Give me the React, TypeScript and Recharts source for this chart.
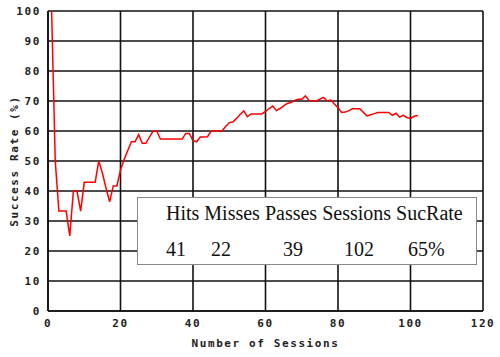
import { LineChart, Line, XAxis, YAxis, CartesianGrid } from 'recharts';

// success rate (%) after each session, sessions 1..102
const rates = [
  100, 50, 33.3, 33.3, 33.3, 25, 40, 40, 33.3, 42.9,
  42.9, 42.9, 42.9, 50, 46, 41, 36.4, 41.7, 41.7, 47,
  50.5, 53.5, 56.4, 56.4, 58.8, 55.9, 55.9, 58, 60, 60,
  57.3, 57.3, 57.3, 57.3, 57.3, 57.3, 57.3, 59.2, 59.2, 56.8,
  56.4, 58, 58, 58.1, 60, 60, 60, 60, 61.5, 62.8,
  63, 64.2, 65.5, 66.7, 64.8, 65.7, 65.7, 65.7, 65.7, 66.5,
  67.5, 68.3, 66.8, 67.5, 68.4, 69.2, 69.5, 70.2, 70.6, 70.6,
  71.7, 70.2, 70, 70, 70.6, 71.2, 70, 70.3, 69, 67.8,
  66.2, 66.3, 66.8, 67.4, 67.4, 67.4, 66.2, 65, 65.4, 65.8,
  66.2, 66.2, 66.2, 66.2, 65.2, 65.9, 64.6, 65.2, 64.5, 64.2,
  64.9, 65.2,
];

const xTicks = [0, 20, 40, 60, 80, 100, 120];
const yTicks = [0, 10, 20, 30, 40, 50, 60, 70, 80, 90, 100];

const statHeaders = ['Hits', 'Misses', 'Passes', 'Sessions', 'SucRate'];
const statValues = ['41', '22', '39', '102', '65%'];
const statValueLeft = [28, 73, 145, 206, 270];

const data = rates.map((r, i) => ({ session: i + 1, rate: r }));

const tickFont = { fontFamily: 'DejaVu Sans Mono', fontSize: 11, fontWeight: 'bold', fill: '#222', letterSpacing: 1.6 };

export default function App() {
  return (
    <div style={{ position: 'absolute', left: 0, top: 0, width: 500, height: 357, background: '#fff' }}>
      <LineChart width={500} height={357} data={data} margin={{ top: 11, right: 17, bottom: 0, left: 0 }}>
        <CartesianGrid stroke="#111" strokeWidth={1.6} horizontalValues={yTicks} verticalValues={xTicks} />
        <XAxis
          dataKey="session"
          type="number"
          domain={[0, 120]}
          ticks={xTicks}
          height={46}
          tickSize={0}
          tickMargin={8}
          axisLine={{ stroke: '#111', strokeWidth: 1.6 }}
          tickLine={false}
          tick={tickFont}
          label={{
            content: (p: any) => (
              <text x={p.viewBox.x + p.viewBox.width / 2} y={347} textAnchor="middle" style={tickFont}>
                Number of Sessions
              </text>
            ),
          }}
        />
        <YAxis
          type="number"
          domain={[0, 100]}
          ticks={yTicks}
          width={48}
          tickSize={0}
          tickMargin={7}
          axisLine={{ stroke: '#111', strokeWidth: 1.6 }}
          tickLine={false}
          tick={tickFont}
          label={{
            content: (p: any) => {
              const cy = p.viewBox.y + p.viewBox.height / 2;
              return (
                <text x={18} y={cy} transform={`rotate(-90 18 ${cy})`} textAnchor="middle" style={tickFont}>
                  Success Rate (%)
                </text>
              );
            },
          }}
        />
        <Line type="linear" dataKey="rate" stroke="#ff0000" strokeWidth={1.5} dot={false} isAnimationActive={false} />
      </LineChart>
      <div
        style={{
          position: 'absolute',
          left: 137,
          top: 197,
          width: 338,
          height: 66,
          background: '#fff',
          border: '1px solid #888',
          fontFamily: '"Liberation Serif", "Times New Roman", serif',
          fontSize: 20,
          color: '#111',
        }}
      >
        <div style={{ position: 'absolute', left: 28, top: 4, whiteSpace: 'nowrap' }}>{statHeaders.join(' ')}</div>
        {statValues.map((v, i) => (
          <div key={v} style={{ position: 'absolute', left: statValueLeft[i], top: 40, whiteSpace: 'nowrap' }}>
            {v}
          </div>
        ))}
      </div>
    </div>
  );
}
